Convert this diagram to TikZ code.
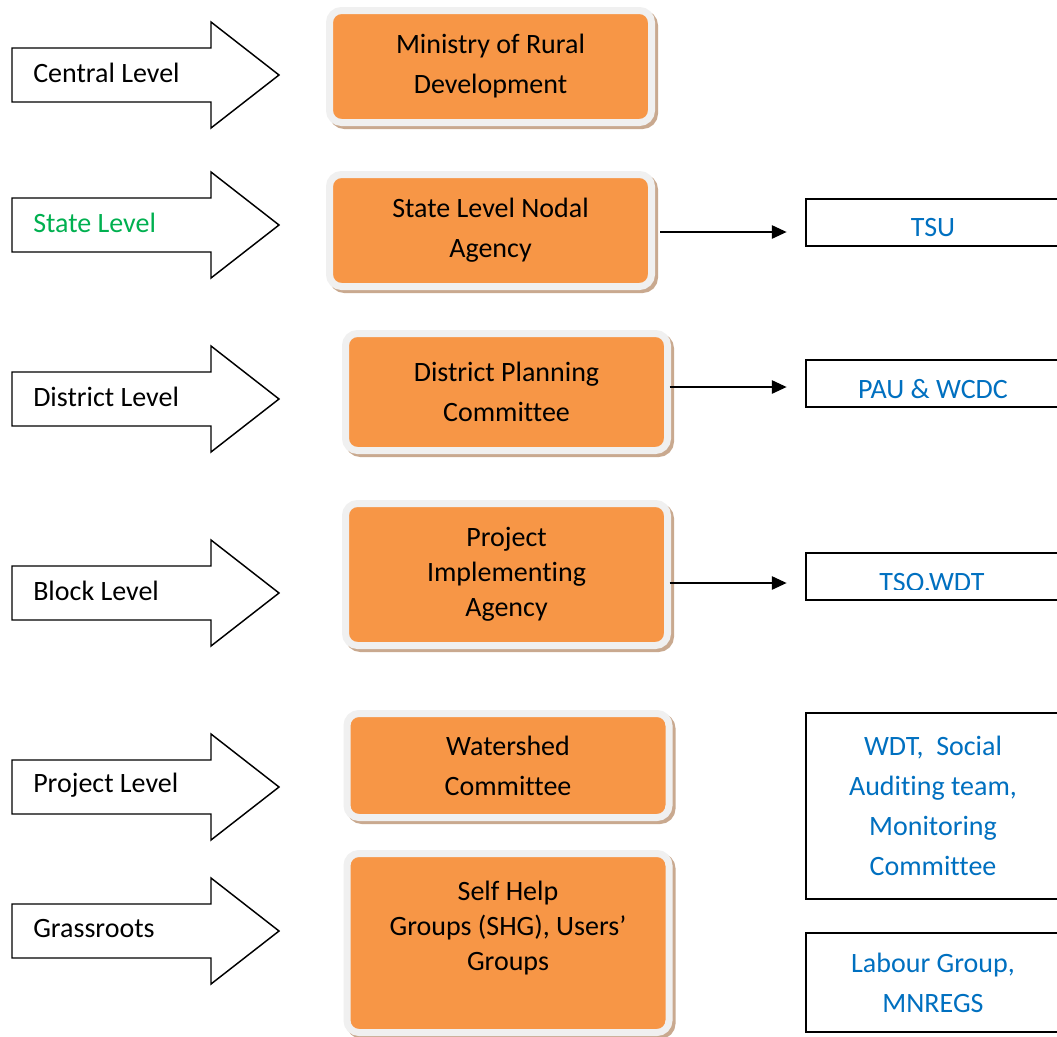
\documentclass[tikz,border=0pt]{standalone}
\usepackage{fontspec}
\setmainfont{Carlito}[Ligatures={NoCommon,NoRare}, Contextuals=NoAlternate]
\usetikzlibrary{arrows.meta}
\definecolor{orangec}{HTML}{F79646}
\definecolor{borderc}{HTML}{F0F0F0}
\definecolor{shadowc}{HTML}{C9A98F}
\definecolor{bluec}{HTML}{0070C0}
\definecolor{greenc}{HTML}{00B050}
\begin{document}
\begin{tikzpicture}[x=0.75pt,y=-0.75pt,
  every node/.style={font=\fontsize{21}{30}\selectfont},
  obox/.style={draw=borderc, line width=5.25pt, fill=orangec, rounded corners=9pt,
    align=center, minimum width=241.5pt, inner sep=0pt,
    preaction={draw=shadowc, line width=5.25pt, transform canvas={shift={(2.25pt,-2.25pt)}}}},
  tight/.style={font=\fontsize{21}{26.25}\selectfont},
  rbox/.style={draw=black, line width=1.1pt, minimum width=190.5pt, inner sep=0pt, align=center, text=bluec},
  larrow/.style={draw=black, line width=1.1pt, fill=white, line join=miter},
  conn/.style={draw=black, line width=1pt, -{Triangle[length=11pt,width=10pt]}, shorten >=14pt}
]
\clip (0,0) rectangle (1057,1036);
\fill[white] (0,0) rectangle (1057,1036);

% left level arrows
\foreach \y/\t/\c/\n in {75/Central Level/black/lcen, 225/State Level/greenc/lsta, 399/District Level/black/ldis, 593/Block Level/black/lblo, 787/Project Level/black/lpro, 931/Grassroots/black/lgra}{
  \draw[larrow] (12,\y-27) -- (211,\y-27) -- (211,\y-53) -- (279,\y) -- (211,\y+53) -- (211,\y+27) -- (12,\y+27) -- cycle;
  \node[anchor=west, text=\c, inner sep=0pt] (\n) at (33,\y-2) {\t};
}

% orange boxes
\node[obox, minimum height=84pt] (mrd) at (490.5,66.5) {Ministry of Rural\\Development};
\node[obox, minimum height=84pt] (sl) at (490.5,230.5) {State Level Nodal\\Agency};
\node[obox, minimum height=87.75pt] (dpc) at (506.5,392) {District Planning\\Committee};
\node[obox, minimum height=106.5pt, tight] (pia) at (506.5,574.5) {Project\\Implementing\\Agency};
\node[obox, minimum height=78pt] (wc) at (508,765.5) {Watershed\\Committee};
\node[obox, minimum height=134.25pt, tight] (shg) at (508,943) {Self Help\\Groups (SHG), Users'\\Groups\\\mbox{}};

% right boxes
\node[rbox, minimum height=35.25pt, label={[text=bluec, yshift=-4pt]center:TSU}] (tsu) at (933,222.5) {};
\node[rbox, minimum height=35.25pt, label={[text=bluec, yshift=-4pt]center:PAU \& WCDC}] (pau) at (933,383.5) {};
\node[rbox, minimum height=35.25pt] (tso) at (933,576.5) {};
\begin{scope}
  \clip (806,553) rectangle (1057,589);
  \node[text=bluec] (tsot) at (932,583) {TSO.WDT};
\end{scope}
\node[rbox, minimum height=139.5pt] (wdt) at (933,806) {WDT,\ \ Social\\Auditing team,\\Monitoring\\Committee};
\node[rbox, minimum height=74.25pt] (lab) at (933,982.5) {Labour Group,\\MNREGS};

% connectors
\draw[conn, shorten <=3.75pt] (sl.east |- 0,232) -- (tsu.west |- 0,232);
\draw[conn, shorten <=-1pt] (dpc.east |- 0,387) -- (pau.west |- 0,387);
\draw[conn, shorten <=-1pt] (pia.east |- 0,583) -- (tso.west |- 0,583);
\end{tikzpicture}
\end{document}
